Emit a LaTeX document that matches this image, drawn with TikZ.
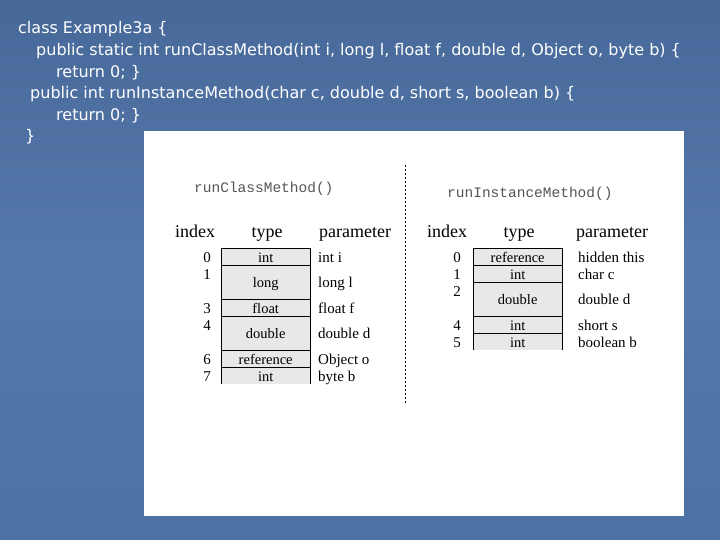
\documentclass[tikz,border=0pt]{standalone}
\usepackage{fontspec}
\setmainfont{Liberation Serif}
\setsansfont{DejaVu Sans}
\setmonofont{Liberation Mono}
\definecolor{bgtop}{HTML}{47699A}
\definecolor{bgmid}{HTML}{5679AB}
\definecolor{bgbot}{HTML}{4C71A4}
\definecolor{cellgray}{HTML}{E8E8E8}
\definecolor{titlegray}{HTML}{555555}
\tikzset{
  codeline/.style={anchor=base west, inner sep=0pt, text=white, font=\sffamily\fontsize{16}{18}\selectfont},
  methodtitle/.style={anchor=base west, inner sep=0pt, text=titlegray, font=\ttfamily\fontsize{14.5}{17}\selectfont},
  header/.style={anchor=base, inner sep=0pt, font=\fontsize{18}{21}\selectfont},
  cellbox/.style={anchor=north west, fill=cellgray, minimum width=89pt, inner sep=0pt,
    font=\fontsize{14.5}{16}\selectfont, text height=11.5pt, text depth=0pt},
  single/.style={minimum height=17pt},
  twoslot/.style={minimum height=34pt},
  idx/.style={anchor=center, inner sep=0pt, font=\fontsize{15}{17}\selectfont, text height=11.5pt, text depth=0pt},
  param/.style={anchor=west, inner sep=0pt, font=\fontsize{15}{17}\selectfont, text height=11.5pt, text depth=0pt},
  cellline/.style={draw=black, line width=0.9pt},
  divider/.style={draw=black, line width=0.7pt, dash pattern=on 2pt off 2pt}
}
\begin{document}
\begin{tikzpicture}[x=1pt,y=-1pt]
\useasboundingbox (0,0) rectangle (720,540);
\shade[top color=bgtop, bottom color=bgbot, middle color=bgmid] (0,0) rectangle (720,540);
\fill[white] (144,131) rectangle (684,516);

% code text
\node[codeline] (l1) at (18,34) {class Example3a \{};
\node[codeline] (l2) at (36,56) {public static int runClassMethod(int i, long l, float f, double d, Object o, byte b) \{};
\node[codeline] (l3) at (56,77.5) {return 0; \}};
\node[codeline] (l4) at (30,99) {public int runInstanceMethod(char c, double d, short s, boolean b) \{};
\node[codeline] (l5) at (56,120.5) {return 0; \}};
\node[codeline] (l6) at (25,142) {\}};

% divider
\coordinate (dtop) at (405.5,165);
\coordinate (dbot) at (405.5,403);
\draw[divider] (dtop) -- (dbot);

% ===== left: runClassMethod =====
\node[methodtitle] (t1) at (194,193) {runClassMethod()};
\node[header] (h1i) at (195,237) {index};
\node[header] (h1t) at (267,237) {type};
\node[header] (h1p) at (355,237) {parameter};

\node[cellbox,single]  (a0) at (221,248) {int};
\node[cellbox,twoslot] (a1) at (221,265) {long};
\node[cellbox,single]  (a3) at (221,299) {float};
\node[cellbox,twoslot] (a4) at (221,316) {double};
\node[cellbox,single]  (a6) at (221,350) {reference};
\node[cellbox,single]  (a7) at (221,367) {int};
\foreach \c in {a0,a1,a3,a4,a6,a7}{
  \draw[cellline] (\c.south west) |- (\c.north east) -- (\c.south east);
}

\node[idx] (ai0) at (207,256.5) {0};
\node[idx] (ai1) at (207,273.5) {1};
\node[idx] (ai3) at (207,307.5) {3};
\node[idx] (ai4) at (207,324.5) {4};
\node[idx] (ai6) at (207,358.5) {6};
\node[idx] (ai7) at (207,375.5) {7};

\node[param] (ap0) at (318,256.5) {int i};
\node[param] (ap1) at (318,282) {long l};
\node[param] (ap3) at (318,307.5) {float f};
\node[param] (ap4) at (318,333) {double d};
\node[param] (ap6) at (318,358.5) {Object o};
\node[param] (ap7) at (318,375.5) {byte b};

% ===== right: runInstanceMethod =====
\node[methodtitle] (t2) at (447,197) {runInstanceMethod()};
\node[header] (h2i) at (447,237) {index};
\node[header] (h2t) at (519,237) {type};
\node[header] (h2p) at (612,237) {parameter};

\node[cellbox,single]  (b0) at (473,248) {reference};
\node[cellbox,single]  (b1) at (473,265) {int};
\node[cellbox,twoslot] (b2) at (473,282) {double};
\node[cellbox,single]  (b4) at (473,316) {int};
\node[cellbox,single]  (b5) at (473,333) {int};
\foreach \c in {b0,b1,b2,b4,b5}{
  \draw[cellline] (\c.south west) |- (\c.north east) -- (\c.south east);
}

\node[idx] (bi0) at (457,256.5) {0};
\node[idx] (bi1) at (457,273.5) {1};
\node[idx] (bi2) at (457,290.5) {2};
\node[idx] (bi4) at (457,324.5) {4};
\node[idx] (bi5) at (457,341.5) {5};

\node[param] (bp0) at (578,256.5) {hidden this};
\node[param] (bp1) at (578,273.5) {char c};
\node[param] (bp2) at (578,299) {double d};
\node[param] (bp4) at (578,324.5) {short s};
\node[param] (bp5) at (578,341.5) {boolean b};
\end{tikzpicture}
\end{document}
